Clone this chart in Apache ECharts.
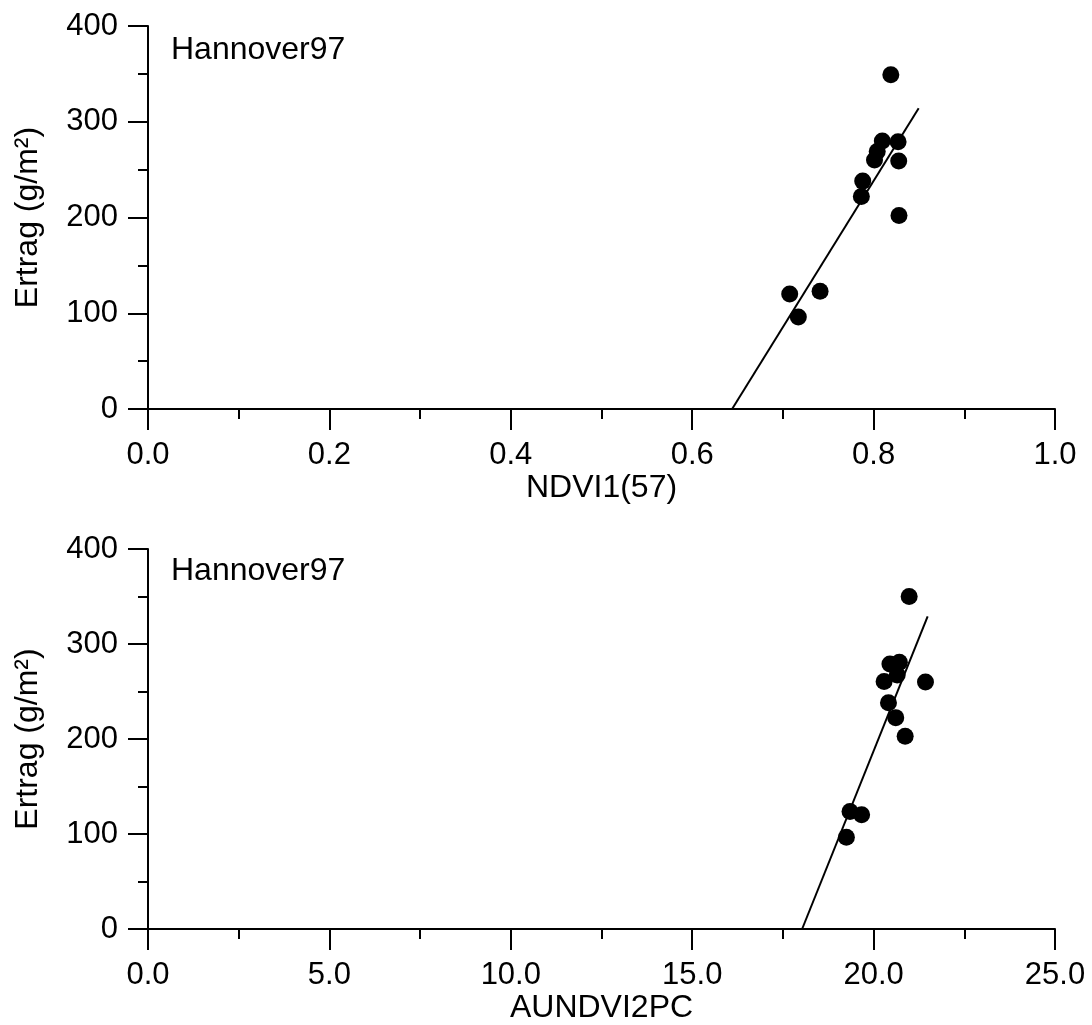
<!DOCTYPE html>
<html>
<head>
<meta charset="utf-8">
<script src="https://cdn.jsdelivr.net/npm/echarts@6/dist/echarts.min.js"></script>
<style>
html,body{margin:0;padding:0;background:#fff;}
#chart{width:1092px;height:1025px;}
</style>
</head>
<body>
<div id="chart"></div>
<script>
// Data
const yieldVals = [349, 280, 279, 269, 260, 259, 238, 222, 202, 123, 120, 96];
const ndviVals  = [0.819, 0.8096, 0.827, 0.804, 0.801, 0.8277, 0.788, 0.7865, 0.828, 0.741, 0.7075, 0.717];
const aundviVals = [20.98, 20.71, 20.45, 20.65, 20.29, 21.43, 20.41, 20.61, 20.87, 19.35, 19.67, 19.25];
const yieldVals2 = [350, 280.8, 279, 267.5, 260.5, 260, 238.2, 222.5, 203, 123.8, 120.2, 96.5];
const fitLine1 = [[0.644, 0], [0.8497, 314]];
const fitLine2 = [[18.03, 0], [21.49, 329]];
const titles = ['Hannover97', 'Hannover97'];
const xNames = ['NDVI1(57)', 'AUNDVI2PC'];
const yName = 'Ertrag (g/m²)';

const FONT = "'Liberation Sans', Arial, Helvetica, sans-serif";
const chart = echarts.init(document.getElementById('chart'), null, {renderer: 'canvas'});

function xAxisCfg(idx, max, interval, name) {
  return {
    type: 'value', gridIndex: idx, min: 0, max: max, interval: interval,
    name: name, nameLocation: 'middle', nameGap: 63,
    nameTextStyle: {fontFamily: FONT, fontSize: 32, color: '#000'},
    axisLine: {show: true, onZero: false, lineStyle: {color: '#000', width: 2}},
    axisTick: {show: true, inside: false, length: 21, lineStyle: {color: '#000', width: 2}},
    minorTick: {show: true, splitNumber: 2, length: 10, lineStyle: {color: '#000', width: 2}},
    axisLabel: {fontFamily: FONT, fontSize: 31, color: '#000', margin: 31,
      formatter: v => v.toFixed(1)},
    splitLine: {show: false}
  };
}
function yAxisCfg(idx) {
  return {
    type: 'value', gridIndex: idx, min: 0, max: 400, interval: 100,
    name: yName, nameLocation: 'middle', nameGap: 104, nameRotate: 90,
    nameTextStyle: {fontFamily: FONT, fontSize: 32, color: '#000'},
    axisLine: {show: true, onZero: false, lineStyle: {color: '#000', width: 2}},
    axisTick: {show: true, inside: false, length: 20, lineStyle: {color: '#000', width: 2}},
    minorTick: {show: true, splitNumber: 2, length: 10, lineStyle: {color: '#000', width: 2}},
    axisLabel: {fontFamily: FONT, fontSize: 31, color: '#000', margin: 30},
    splitLine: {show: false}
  };
}

const option = {
  backgroundColor: '#fff',
  animation: false,
  title: [
    {text: titles[0], left: 166, top: 29, textStyle: {fontFamily: FONT, fontSize: 32, fontWeight: 'normal', color: '#000'}},
    {text: titles[1], left: 166, top: 550, textStyle: {fontFamily: FONT, fontSize: 32, fontWeight: 'normal', color: '#000'}}
  ],
  grid: [
    {left: 148, width: 907, top: 26, height: 383},
    {left: 148, width: 907, top: 549, height: 382.5}
  ],
  xAxis: [
    xAxisCfg(0, 1, 0.2, xNames[0]),
    xAxisCfg(1, 25, 5, xNames[1])
  ],
  yAxis: [yAxisCfg(0), yAxisCfg(1)],
  series: [
    {type: 'line', xAxisIndex: 0, yAxisIndex: 0, data: fitLine1, symbol: 'none',
      lineStyle: {color: '#000', width: 2}, z: 2},
    {type: 'line', xAxisIndex: 1, yAxisIndex: 1, data: fitLine2, symbol: 'none',
      lineStyle: {color: '#000', width: 2}, z: 2},
    {type: 'scatter', xAxisIndex: 0, yAxisIndex: 0, symbol: 'circle', symbolSize: 17,
      itemStyle: {color: '#000', opacity: 1}, z: 3,
      data: ndviVals.map((x, i) => [x, yieldVals[i]])},
    {type: 'scatter', xAxisIndex: 1, yAxisIndex: 1, symbol: 'circle', symbolSize: 17,
      itemStyle: {color: '#000', opacity: 1}, z: 3,
      data: aundviVals.map((x, i) => [x, yieldVals2[i]])}
  ]
};
chart.setOption(option);
</script>
</body>
</html>
